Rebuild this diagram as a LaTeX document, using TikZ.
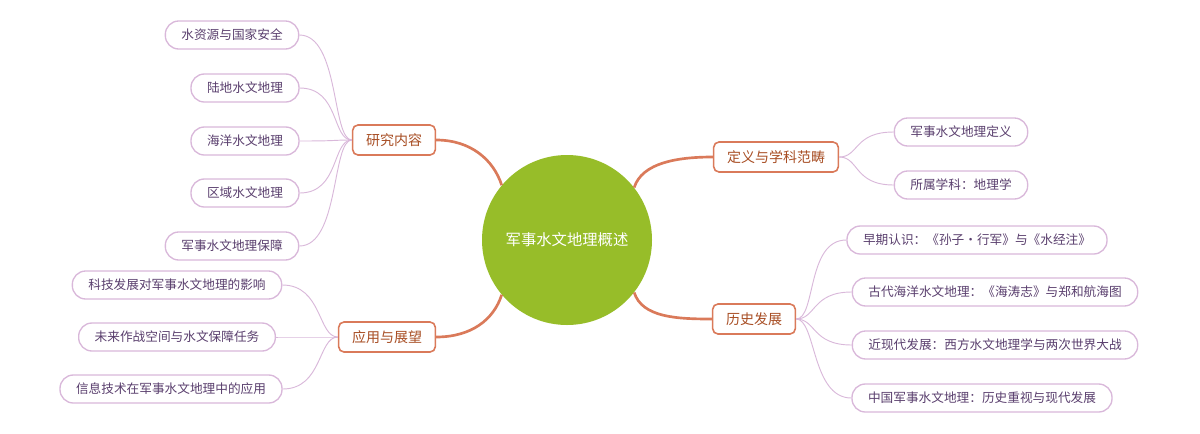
\documentclass[tikz,border=0pt]{standalone}
\usepackage{fontspec}
\setmainfont{Noto Sans CJK SC}
\definecolor{cgreen}{HTML}{97BD29}
\definecolor{borange}{HTML}{DA7A5A}
\definecolor{btext}{HTML}{A84E24}
\definecolor{lline}{HTML}{D9B8DA}
\definecolor{ltext}{HTML}{5A3F6E}
\begin{document}
\begin{tikzpicture}[x=0.75pt,y=-0.75pt,
  center/.style={circle,fill=cgreen,text=white,minimum size=127.5pt,font=\fontsize{11.5}{13}\selectfont},
  branch/.style={draw=borange,line width=1.2pt,rounded corners=4pt,fill=white,text=btext,minimum height=22.5pt,inner xsep=10pt,font=\fontsize{10.5}{12}\selectfont},
  leaf/.style={draw=lline,line width=1pt,rounded corners=10pt,fill=white,text=ltext,minimum height=21pt,inner xsep=12pt,font=\fontsize{9.5}{11}\selectfont},
  bline/.style={draw=borange,line width=2pt},
  lconn/.style={draw=lline,line width=0.7pt}]
\useasboundingbox (0,0) rectangle (1200,433);
\node[center] (c) at (567,240) {军事水文地理概述};
\node[branch] (b1) at (394,140) {研究内容};
\node[branch] (b2) at (776,157) {定义与学科范畴};
\node[branch] (b3) at (754,319) {历史发展};
\node[branch] (b4) at (387,337) {应用与展望};
\node[leaf] (l1) at (232,35) {水资源与国家安全};
\node[leaf] (l2) at (245,88) {陆地水文地理};
\node[leaf] (l3) at (245,141) {海洋水文地理};
\node[leaf] (l4) at (245,193) {区域水文地理};
\node[leaf] (l5) at (232,246) {军事水文地理保障};
\node[leaf] (m1) at (177,285) {科技发展对军事水文地理的影响};
\node[leaf] (m2) at (177,337) {未来作战空间与水文保障任务};
\node[leaf] (m3) at (171,389) {信息技术在军事水文地理中的应用};
\node[leaf] (d1) at (961,132) {军事水文地理定义};
\node[leaf] (d2) at (961,185) {所属学科：地理学};
\node[leaf] (h1) at (977,240) {早期认识：《孙子·行军》与《水经注》};
\node[leaf] (h2) at (995,292) {古代海洋水文地理：《海涛志》与郑和航海图};
\node[leaf] (h3) at (995,345) {近现代发展：西方水文地理学与两次世界大战};
\node[leaf] (h4) at (982,398) {中国军事水文地理：历史重视与现代发展};
\begin{scope}[on background layer/.style={}]
\end{scope}
\draw[bline] (c.140) .. controls +(-8,-25) and +(35,0) .. (b1.east);
\draw[bline] (c.38) .. controls +(8,-25) and +(-35,0) .. (b2.west);
\draw[bline] (c.-38) .. controls +(8,25) and +(-35,0) .. (b3.west);
\draw[bline] (c.-140) .. controls +(-8,25) and +(35,0) .. (b4.east);
\foreach \l in {l1,l2,l3,l4,l5}
  \draw[lconn] (b1.west) .. controls +(-20,0) and +(40,0) .. (\l.east);
\foreach \l in {m1,m2,m3}
  \draw[lconn] (b4.west) .. controls +(-20,0) and +(40,0) .. (\l.east);
\foreach \l in {d1,d2}
  \draw[lconn] (b2.east) .. controls +(20,0) and +(-40,0) .. (\l.west);
\foreach \l in {h1,h2,h3,h4}
  \draw[lconn] (b3.east) .. controls +(20,0) and +(-40,0) .. (\l.west);
\end{tikzpicture}
\end{document}
